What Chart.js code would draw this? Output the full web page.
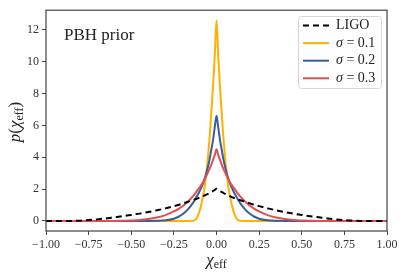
<!DOCTYPE html>
<html>
<head>
<meta charset="utf-8">
<script src="https://cdn.jsdelivr.net/npm/chart.js@4.4.0/dist/chart.umd.min.js"></script>
<style>
  html, body { margin: 0; padding: 0; background: #fff; }
</style>
</head>
<body>
<canvas id="chart" width="405" height="276"></canvas>
<script>
const chiHalf = [0, 0.01, 0.02, 0.03, 0.04, 0.05, 0.06, 0.07, 0.08, 0.09, 0.10, 0.11, 0.12, 0.13, 0.14,
                 0.16, 0.18, 0.20, 0.22, 0.25, 0.30, 0.35, 0.40, 0.45, 0.50, 0.55, 0.60, 0.65, 0.70,
                 0.75, 0.80, 0.85, 0.90, 1.00];
const ligo   = [2.02, 1.95, 1.88, 1.82, 1.76, 1.70, 1.65, 1.60, 1.55, 1.50, 1.46, 1.42, 1.38, 1.34, 1.30,
                1.23, 1.16, 1.09, 1.02, 0.93, 0.79, 0.67, 0.56, 0.46, 0.38, 0.30, 0.23, 0.16, 0.10,
                0.055, 0.02, 0.005, 0, 0];
const sigma01 = [12.6, 10.4, 8.5, 6.9, 5.3, 4.0, 3.0, 2.1, 1.5, 1.0, 0.6, 0.3, 0.12, 0.04, 0.015,
                 0.005, 0, 0, 0, 0, 0, 0, 0, 0, 0, 0, 0, 0, 0, 0, 0, 0, 0, 0];
const sigma02 = [6.6, 5.9, 5.1, 4.5, 3.9, 3.4, 3.0, 2.65, 2.35, 2.08, 1.85, 1.64, 1.45, 1.27, 1.10,
                 0.82, 0.60, 0.42, 0.28, 0.14, 0.04, 0.01, 0, 0, 0, 0, 0, 0, 0, 0, 0, 0, 0, 0];
const sigma03 = [4.5, 4.15, 3.85, 3.55, 3.28, 3.05, 2.82, 2.60, 2.42, 2.25, 2.10, 1.95, 1.80, 1.66, 1.53,
                 1.30, 1.10, 0.92, 0.78, 0.60, 0.37, 0.22, 0.12, 0.06, 0.03, 0.01, 0, 0, 0, 0, 0, 0, 0, 0];

const seriesLabels = ['LIGO', 'σ = 0.1', 'σ = 0.2', 'σ = 0.3'];
const seriesColors = ['#000000', '#ffb000', '#3a5d9c', '#e05050'];
const xTicks = [-1, -0.75, -0.5, -0.25, 0, 0.25, 0.5, 0.75, 1];
const yTicks = [0, 2, 4, 6, 8, 10, 12];

const SERIF = '"Liberation Serif", "DejaVu Serif", serif';

// mirror the half profile onto the negative side
function toPoints(vals) {
    const pts = [];
    for (let i = chiHalf.length - 1; i > 0; i--) pts.push({ x: -chiHalf[i], y: vals[i] });
    for (let i = 0; i < chiHalf.length; i++) pts.push({ x: chiHalf[i], y: vals[i] });
    return pts;
}

function fmtMinus(s) { return s.replace('-', '\u2212'); }

// frame, axis titles, in-plot text and legend
const decorations = {
    id: 'decorations',
    afterDraw(chart) {
        const ctx = chart.ctx;
        const a = chart.chartArea;
        ctx.save();
        ctx.strokeStyle = '#444';
        ctx.lineWidth = 1.2;
        ctx.strokeRect(a.left, a.top, a.right - a.left, a.bottom - a.top);

        ctx.fillStyle = '#222';
        ctx.textBaseline = 'alphabetic';

        // PBH prior
        ctx.font = '17px ' + SERIF;
        ctx.textAlign = 'left';
        ctx.fillText('PBH prior', 64, 40);

        // x title: chi_eff
        ctx.font = 'italic 17px ' + SERIF;
        const chiW = ctx.measureText('χ').width;
        ctx.font = '12px ' + SERIF;
        const effW = ctx.measureText('eff').width;
        let x0 = (a.left + a.right) / 2 - (chiW + effW) / 2;
        ctx.font = 'italic 17px ' + SERIF;
        ctx.fillText('χ', x0, 265);
        ctx.font = '12px ' + SERIF;
        ctx.fillText('eff', x0 + chiW, 268);

        // y title: p(chi_eff)
        ctx.save();
        ctx.translate(20, 122);
        ctx.rotate(-Math.PI / 2);
        const parts = [
            ['italic 17px ', 'p', 0], ['17px ', '(', 0], ['italic 17px ', 'χ', 0],
            ['12px ', 'eff', 3], ['17px ', ')', 0]
        ];
        let total = 0;
        parts.forEach(p => { ctx.font = p[0] + SERIF; total += ctx.measureText(p[1]).width; });
        let px = -total / 2;
        parts.forEach(p => {
            ctx.font = p[0] + SERIF;
            ctx.fillText(p[1], px, p[2]);
            px += ctx.measureText(p[1]).width;
        });
        ctx.restore();

        // legend
        const lx = 298, ly = 16, lw = 83, lh = 72, r = 3;
        ctx.fillStyle = 'rgba(255,255,255,0.85)';
        ctx.strokeStyle = '#d6d6d6';
        ctx.lineWidth = 1;
        ctx.beginPath();
        ctx.roundRect(lx + 0.5, ly + 0.5, lw, lh, r);
        ctx.fill();
        ctx.stroke();

        chart.data.datasets.forEach((ds, i) => {
            const yy = 25.5 + i * 17.6;
            ctx.strokeStyle = ds.borderColor;
            ctx.lineWidth = 2;
            ctx.setLineDash(ds.borderDash || []);
            ctx.beginPath();
            ctx.moveTo(303, yy);
            ctx.lineTo(329, yy);
            ctx.stroke();
            ctx.setLineDash([]);
            ctx.fillStyle = '#222';
            ctx.textBaseline = 'middle';
            const label = ds.label;
            if (label.startsWith('σ')) {
                ctx.font = 'italic 14px ' + SERIF;
                ctx.fillText('σ', 336, yy);
                const w = ctx.measureText('σ').width;
                ctx.font = '14px ' + SERIF;
                ctx.fillText(label.slice(1), 336 + w, yy);
            } else {
                ctx.font = '14px ' + SERIF;
                ctx.fillText(label, 336, yy);
            }
        });
        ctx.restore();
    }
};

const datasets = [ligo, sigma01, sigma02, sigma03].map((vals, i) => ({
    label: seriesLabels[i],
    data: toPoints(vals),
    borderColor: seriesColors[i],
    borderWidth: 2,
    borderDash: i === 0 ? [6, 4] : [],
    pointRadius: 0,
    cubicInterpolationMode: 'monotone',
    order: i === 0 ? 0 : 4 - i
}));

new Chart(document.getElementById('chart'), {
    type: 'line',
    data: { datasets: datasets },
    options: {
        responsive: false,
        devicePixelRatio: 1,
        animation: false,
        layout: { padding: { left: 0, right: 18, top: 10, bottom: 0 } },
        plugins: { legend: { display: false }, tooltip: { enabled: false } },
        scales: {
            x: {
                type: 'linear',
                min: -1,
                max: 1,
                afterBuildTicks: s => { s.ticks = xTicks.map(v => ({ value: v })); },
                afterFit: s => { s.height = 45; },
                ticks: {
                    color: '#333',
                    font: { family: SERIF, size: 12 },
                    padding: 3,
                    maxRotation: 0,
                    callback: v => fmtMinus(Number(v).toFixed(2))
                },
                grid: { drawOnChartArea: false, tickLength: 4, color: '#444', tickWidth: 1 },
                border: { display: false }
            },
            y: {
                type: 'linear',
                min: -0.63,
                max: 13.23,
                afterBuildTicks: s => { s.ticks = yTicks.map(v => ({ value: v })); },
                afterFit: s => { s.width = 46; },
                ticks: {
                    color: '#333',
                    font: { family: SERIF, size: 12 },
                    padding: 3,
                    callback: v => String(v)
                },
                grid: { drawOnChartArea: false, tickLength: 4, color: '#444', tickWidth: 1 },
                border: { display: false }
            }
        }
    },
    plugins: [decorations]
});
</script>
</body>
</html>
